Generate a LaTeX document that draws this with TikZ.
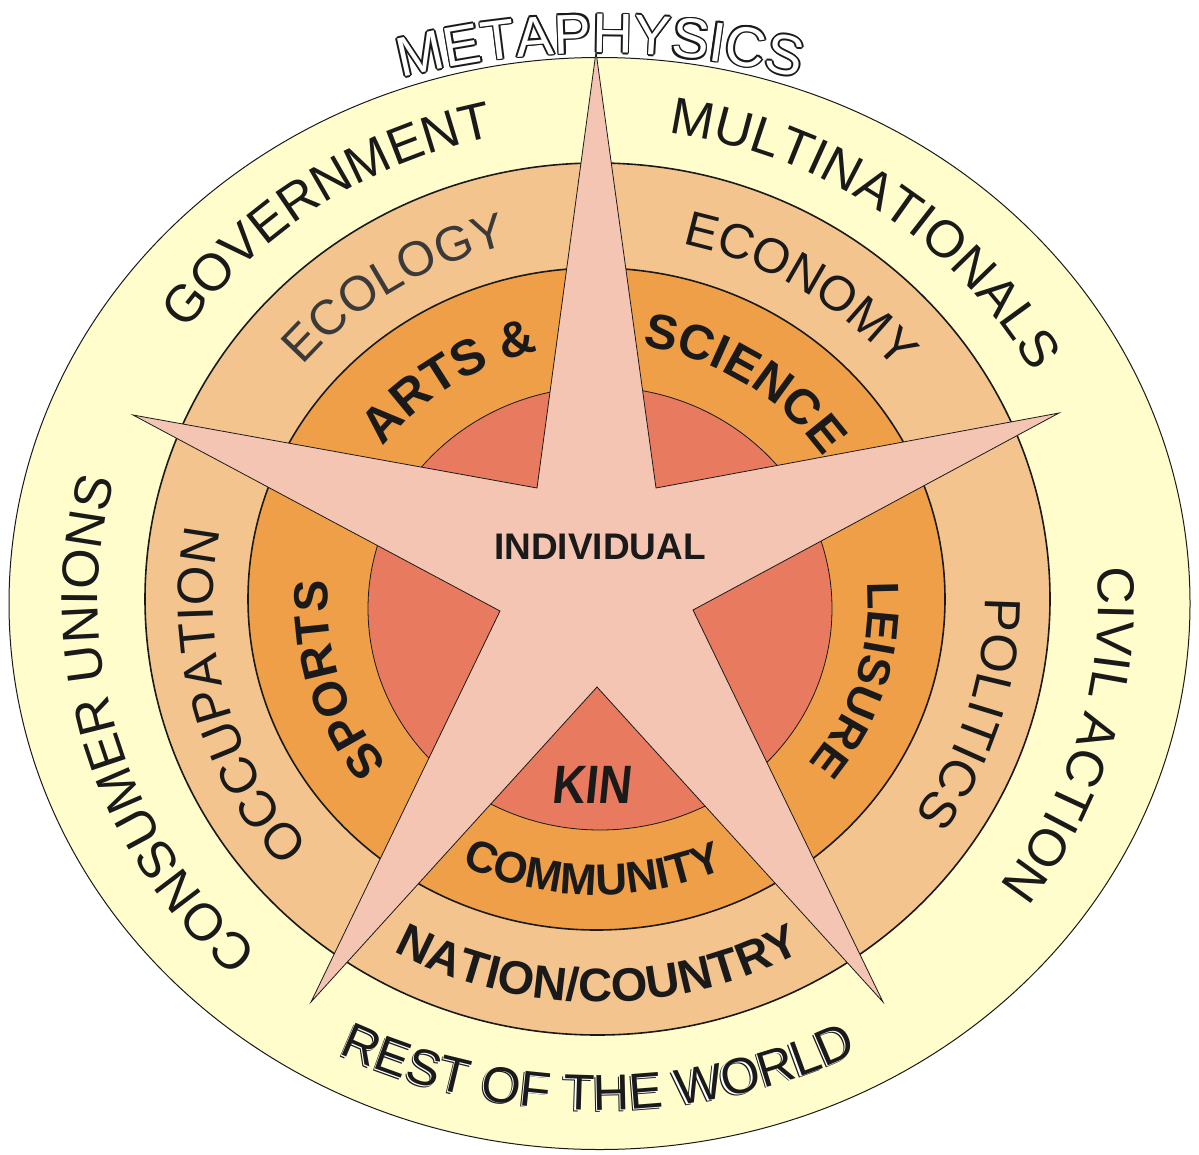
\documentclass[tikz,border=0pt]{standalone}
\usepackage{fontspec}
\setmainfont{Liberation Sans}
\usetikzlibrary{decorations.text}
\definecolor{cyellow}{HTML}{FFFDCC}
\definecolor{ctan}{HTML}{F4C48F}
\definecolor{corange}{HTML}{EF9F47}
\definecolor{cred}{HTML}{E87A5F}
\definecolor{cstar}{HTML}{F5C5B3}
\definecolor{cink}{HTML}{1A1A1A}
\definecolor{cgrey}{HTML}{3A3A3A}
\newcommand\rgfont{\fontsize{52}{60}\selectfont}
\newcommand\mdfont{\fontsize{49}{56}\selectfont}
\newcommand\bdfont{\bfseries\fontsize{48}{56}\selectfont}
\newcommand\rwfont{\fontsize{50.5}{58}\selectfont}
\newcommand\myMetaFont{\fontsize{56}{64}\selectfont}
\newcommand\arclabel[6]{%
  \path[decorate,decoration={text along path,text align=center,text color=cink,#1,text={#6}}]
    ({#2*cos(#4)},{#3*sin(#4)}) arc[start angle=#4,end angle=#5,x radius=#2,y radius=#3];}
\begin{document}
\begin{tikzpicture}[x=1pt,y=1pt,
  ring/.style={draw=cink,line width=1.6pt},
  starline/.style={draw=cink,line width=0.8pt,fill=cstar,line join=miter}]
\useasboundingbox (0,0) rectangle (1199,-1154);
\fill[white] (0,0) rectangle (1199,-1154);
% rings
\draw[fill=cyellow,draw=cink,line width=1pt] (599.5,-603.5) ellipse [x radius=590.5,y radius=546];
\draw[fill=ctan,ring] (597.5,-599) ellipse [x radius=452.5,y radius=436];
\draw[fill=corange,ring] (596.5,-599) ellipse [x radius=348.5,y radius=331];
\draw[fill=cred,draw=cink,line width=0.8pt] (600,-608.5) ellipse [x radius=232,y radius=221.5];
% star
\coordinate (s1) at (596,-52);
\coordinate (s2) at (656,-488);
\coordinate (s3) at (1059,-413);
\coordinate (s4) at (693,-610);
\coordinate (s5) at (883,-1002);
\coordinate (s6) at (597,-687);
\coordinate (s7) at (311,-1002);
\coordinate (s8) at (500,-611);
\coordinate (s9) at (133,-415);
\coordinate (s10) at (537,-488);
\draw[starline] (s1) -- (s2) -- (s3) -- (s4) -- (s5) -- (s6) -- (s7) -- (s8) -- (s9) -- (s10) -- cycle;
% curved labels
\begin{scope}[shift={(598,-602)}]
  % outer band
  \arclabel{}{500}{476}{164}{84}{|\rgfont|GOVERNMENT}
  \arclabel{}{496}{474}{100}{10}{|\rgfont|MULTINATIONALS}
  \arclabel{}{500}{476}{241}{151}{|\rgfont|CONSUMER UNIONS}
  \arclabel{}{500}{476}{24}{-56}{|\rgfont|CIVIL ACTION}
  % middle band
  \arclabel{text color=cgrey}{385}{367}{157}{87}{|\mdfont|ECOLOGY}
  \arclabel{}{385}{367}{93}{23}{|\mdfont|ECONOMY}
  \arclabel{}{385}{367}{235}{155}{|\fontsize{51}{58}\selectfont|OCCUPATION}
  \arclabel{}{387}{369}{18}{-52}{|\fontsize{51}{58}\selectfont|POLITICS}
  % inner band
  \arclabel{}{270}{257}{158}{88}{|\bfseries\fontsize{50}{56}\selectfont|ARTS {\&}}
  \arclabel{}{272}{259}{97}{17}{|\bfseries\fontsize{49}{56}\selectfont|SCIENCE}
  \arclabel{}{270}{257}{232}{162}{|\bdfont|SPORTS}
  \arclabel{}{270}{257}{21}{-55}{|\bfseries\fontsize{45}{52}\selectfont|LEISURE}
  % bottom labels
  \arclabel{}{308}{293}{229}{309}{|\bfseries\fontsize{44}{50}\selectfont|COMMUNITY}
  \arclabel{}{420}{400}{230}{310}{|\bfseries\fontsize{47}{52}\selectfont|NATION/COUNTRY}
  \begin{scope}[shift={(-2.2,-1.8)}]
    \arclabel{}{565}{508}{230}{310}{|\rwfont|REST OF THE WORLD}
  \end{scope}
  \begin{scope}[shift={(-1.1,-0.9)}]
    \arclabel{text color=white}{565}{508}{230}{310}{|\rwfont|REST OF THE WORLD}
  \end{scope}
  \arclabel{}{565}{508}{230}{310}{|\rwfont|REST OF THE WORLD}
\end{scope}
% METAPHYSICS outlined
\foreach \dx/\dy in {1.7/0,-1.7/0,0/1.7,0/-1.7,1.2/1.2,-1.2/1.2,1.2/-1.2,-1.2/-1.2}{
  \begin{scope}[shift={(600+\dx,-857+\dy)}]
    \path[decorate,decoration={text along path,text align=center,text color=cink,text={|\myMetaFont|METAPHYSICS}}]
      ({804*cos(108)},{804*sin(108)}) arc[start angle=108,end angle=72,radius=804];
  \end{scope}}
\begin{scope}[shift={(600,-857)}]
  \path[decorate,decoration={text along path,text align=center,text color=white,text={|\myMetaFont|METAPHYSICS}}]
    ({804*cos(108)},{804*sin(108)}) arc[start angle=108,end angle=72,radius=804];
\end{scope}
% centre labels
\node[font=\bfseries\fontsize{37}{42}\selectfont,text=cink,inner sep=0pt] (individual) at (600,-546.5) {INDIVIDUAL};
\begin{scope}[shift={(593,-785)},xscale=0.85,xslant=0.12]
  \node[font=\bfseries\fontsize{54}{60}\selectfont,text=cink,inner sep=0pt,transform shape] (kin) at (0,0) {KIN};
\end{scope}
\end{tikzpicture}
\end{document}
